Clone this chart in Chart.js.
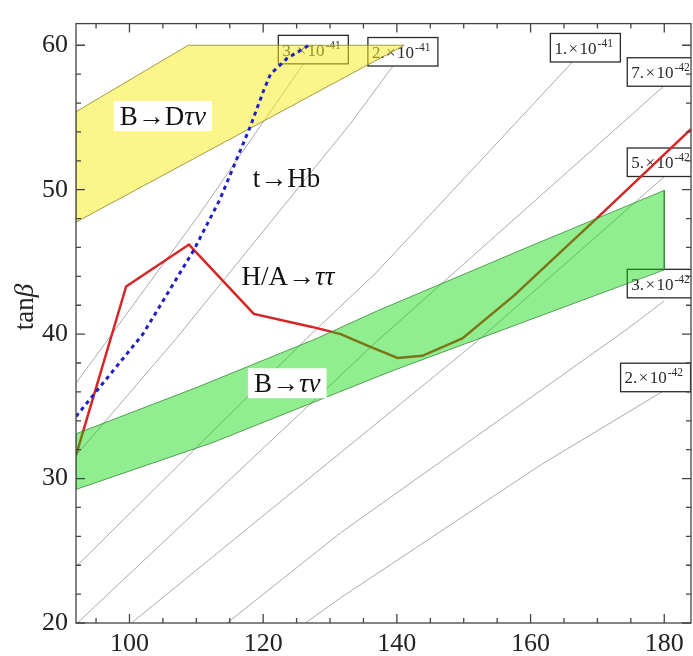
<!DOCTYPE html>
<html><head><meta charset="utf-8">
<script src="https://cdn.jsdelivr.net/npm/chart.js@4/dist/chart.umd.min.js"></script>
<style>html,body{margin:0;padding:0;background:#fff}#wrap{width:693px;height:656px}</style>
</head><body><div id="wrap"><canvas id="c" width="693" height="656"></canvas></div>
<script>
// ---- axes ----
const xRange = [92, 184];
const yRange = [20, 61.5];
const xTickLabels = [100, 120, 140, 160, 180];
const yTickLabels = [20, 30, 40, 50, 60];
const xMinorStep = 5;
const yMinorStep = 2;
const yTitle = 'tanβ';

// ---- contour lines (mH, tanβ) ----
const contour3e41 = [[92,36.6],[110,48.0],[127.5,59.7]];
const contour2e41 = [[92,31.6],[107,39.7],[133.1,54.6],[140.9,59.5]];
const contour1e41 = [[92,23.9],[126.5,39.7],[137,44.3],[168.2,59.8]];
const contour7e42 = [[92.2,20],[137,39.5],[180,57.2]];
const contour5e42 = [[100.3,20],[131.6,31.8],[152,39.5],[180,50.9]];
const contour3e42 = [[114.6,20],[131.6,26.25],[174.6,40.4],[180,42.3]];
const contour2e42 = [[126.3,20],[131.6,21.75],[161.6,30.97],[180,36.1]];
const contourNames = ['3.\u200A×\u200A10|-41','2.\u200A×\u200A10|-41','1.\u200A×\u200A10|-41','7.\u200A×\u200A10|-42','5.\u200A×\u200A10|-42','3.\u200A×\u200A10|-42','2.\u200A×\u200A10|-42'];
const contourLabelX = [127.5, 140.9, 168.2, 179.7, 179.7, 179.7, 178.7];
const contourLabelY = [59.7, 59.55, 59.83, 58.15, 51.9, 43.5, 37.0];

// ---- constraints ----
const hAtautau = [[92,31.6],[99.5,43.3],[108.9,46.2],[118.6,41.4],[127.3,40.5],[131.6,40.0],[135.6,39.2],[140.1,38.35],[143.8,38.5],[149.8,39.7],[157.6,42.7],[165,45.9],[170.1,48.1],[184,54.2]];
const tHb = [[92,34.3],[102,40],[109.6,45.8],[113.5,49.3],[118.1,54.4],[120.1,56.9],[121.1,58.0],[123.6,59.1],[127.2,60.1]];
const bTauNuUpper = [[92,33.1],[110,36.3],[128,39.7],[137,41.6],[160,46.1],[180,49.95]];
const bTauNuLower = [[92,29.25],[112.5,32.5],[139,37.4],[180,44.45]];
const bDTauNu = [[92,55.4],[108.8,60],[141.1,60],[92,47.75]];

// ---- region names ----
const processNames = ['B→Dτν','t→Hb','H/A→ττ','B→τν'];
const processX = [105.0, 123.5, 123.7, 123.6];
const processY = [55.1, 50.8, 44.0, 36.6];
const processBg = [true, false, false, true];

const FONT = '"Liberation Serif", "Times New Roman", serif';
const xy = a => a.map(p => ({x:p[0], y:p[1]}));
const closed = a => xy(a.concat([a[0]]));

const contourSets = [contour3e41,contour2e41,contour1e41,contour7e42,contour5e42,contour3e42,contour2e42].map((d,i)=>({
  label:'c'+i, data: xy(d), showLine:true, pointRadius:0, borderColor:'#ababab', borderWidth:1, fill:false, order:10
}));

function drawRich(ctx, text, x, y, size, align){
  const runs = [];
  for (const ch of text){
    const it = /[α-ω]/.test(ch);
    if (runs.length && runs[runs.length-1].it===it) runs[runs.length-1].t += ch; else runs.push({t:ch,it});
  }
  let w = 0;
  runs.forEach(r=>{ ctx.font = (r.it?'italic ':'')+size+'px '+FONT; r.w = ctx.measureText(r.t).width; w += r.w; });
  let cx = align==='center' ? x - w/2 : x;
  ctx.textBaseline = 'alphabetic'; ctx.textAlign='left';
  runs.forEach(r=>{ ctx.font = (r.it?'italic ':'')+size+'px '+FONT; ctx.fillText(r.t, cx, y); cx += r.w; });
  return w;
}

const boxPlugin = {
  id:'boxes',
  beforeDatasetDraw(chart, args){
    if (chart.data.datasets[args.index].label !== 'H/A→ττ') return;
    const {ctx, chartArea:a, scales:{x,y}} = chart;
    ctx.save();
    ctx.beginPath(); ctx.rect(a.left, a.top, a.right-a.left, a.bottom-a.top); ctx.clip();
    contourNames.forEach((n,i)=>{
      const [m, s] = n.split('|');
      ctx.font = '17px '+FONT; const w1 = ctx.measureText(m).width;
      const bw = 70, bh = 28.5;
      const cx = x.getPixelForValue(contourLabelX[i]), cy = y.getPixelForValue(contourLabelY[i]);
      ctx.fillStyle = '#fff'; ctx.fillRect(cx-bw/2, cy-bh/2, bw, bh);
      ctx.strokeStyle = '#2a2a2a'; ctx.lineWidth = 1.3; ctx.strokeRect(cx-bw/2, cy-bh/2, bw, bh);
      ctx.fillStyle = '#2a2a2a'; ctx.textAlign='left'; ctx.textBaseline='alphabetic';
      ctx.font = '17px '+FONT; ctx.fillText(m, cx-bw/2+4, cy+6);
      ctx.font = '11.5px '+FONT; ctx.fillText(s, cx-bw/2+4+w1+1, cy-1);
    });
    ctx.restore();
  },
  afterDatasetsDraw(chart){
    const {ctx, scales:{x,y}} = chart;
    ctx.save();
    processNames.forEach((n,i)=>{
      const cx = x.getPixelForValue(processX[i]), cy = y.getPixelForValue(processY[i]);
      let w = 0;
      for (const ch of n){ ctx.font = (/[α-ω]/.test(ch)?'italic ':'')+'27px '+FONT; w += ctx.measureText(ch).width; }
      if (processBg[i]) { ctx.fillStyle='#fff'; ctx.fillRect(cx-w/2-6, cy-15, w+12, 30); }
      ctx.fillStyle='#111';
      drawRich(ctx, n, cx, cy+9, 27, 'center');
    });
    ctx.restore();
  },
  afterDraw(chart){
    const {ctx, chartArea:a, scales:{x,y}} = chart;
    ctx.save();
    ctx.strokeStyle = '#444'; ctx.lineWidth = 1.3;
    ctx.strokeRect(a.left, a.top, a.right-a.left, a.bottom-a.top);
    ctx.beginPath();
    for (let v = Math.ceil(x.min/xMinorStep)*xMinorStep; v <= x.max; v += xMinorStep){
      const px = x.getPixelForValue(v); const L = xTickLabels.includes(v) ? 9 : 5;
      ctx.moveTo(px, a.bottom); ctx.lineTo(px, a.bottom-L);
      ctx.moveTo(px, a.top); ctx.lineTo(px, a.top+L);
    }
    for (let v = Math.ceil(y.min/yMinorStep)*yMinorStep; v <= y.max; v += yMinorStep){
      const py = y.getPixelForValue(v); const L = yTickLabels.includes(v) ? 9 : 5;
      ctx.moveTo(a.left, py); ctx.lineTo(a.left+L, py);
      ctx.moveTo(a.right, py); ctx.lineTo(a.right-L, py);
    }
    ctx.stroke();
    ctx.translate(24, 307); ctx.rotate(-Math.PI/2);
    ctx.fillStyle = '#222';
    drawRich(ctx, yTitle, 0, 9, 27, 'center');
    ctx.restore();
  }
};

new Chart(document.getElementById('c'), {
  type:'scatter',
  data:{ datasets: contourSets.concat([
    {label:'H/A→ττ', data: xy(hAtautau), showLine:true, pointRadius:0, borderColor:'#d82424', borderWidth:2.5, fill:false, order:5},
    {label:'B→τν', data: closed(bTauNuUpper.concat(bTauNuLower.slice().reverse())), showLine:true, pointRadius:0,
      borderColor:'rgba(50,130,50,0.75)', borderWidth:1, backgroundColor:'rgba(8,217,8,0.45)', fill:'shape', order:4},
    {label:'B→Dτν', data: closed(bDTauNu), showLine:true, pointRadius:0,
      borderColor:'rgba(140,130,40,0.8)', borderWidth:1, backgroundColor:'rgba(250,238,30,0.52)', fill:'shape', order:3},
    {label:'t→Hb', data: xy(tHb), showLine:true, pointRadius:0, borderColor:'#1f1fc8', borderWidth:3, borderDash:[4,4], fill:false, order:2}
  ])},
  options:{
    responsive:false, animation:false, devicePixelRatio:1,
    layout:{padding:{top:7, right:2, left:0, bottom:0}},
    plugins:{legend:{display:false}, tooltip:{enabled:false}},
    scales:{
      x:{type:'linear', min:xRange[0], max:xRange[1],
        grid:{display:false, drawTicks:false}, border:{display:false},
        afterBuildTicks: s => { s.ticks = xTickLabels.map(v=>({value:v})); },
        afterFit: s => { s.height = 33; },
        ticks:{font:{family:FONT, size:26}, color:'#222', padding:6, maxRotation:0, autoSkip:false}},
      y:{type:'linear', min:yRange[0], max:yRange[1],
        grid:{display:false, drawTicks:false}, border:{display:false},
        afterBuildTicks: s => { s.ticks = yTickLabels.map(v=>({value:v})); },
        afterFit: s => { s.width = 76; },
        ticks:{font:{family:FONT, size:26}, color:'#222', padding:8, autoSkip:false}}
    }
  },
  plugins:[boxPlugin]
});
</script></body></html>
